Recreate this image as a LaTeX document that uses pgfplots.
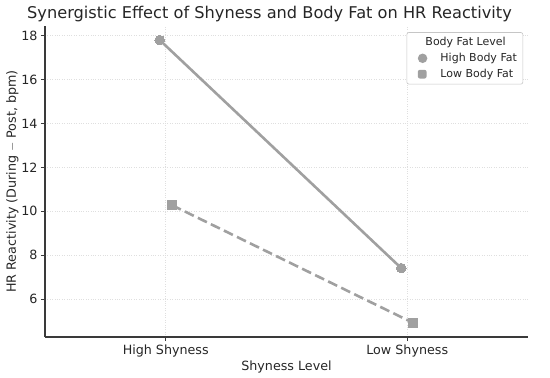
\documentclass[border=0pt]{standalone}
\usepackage{pgfplots}
\pgfplotsset{compat=1.18}
\usepackage{fontspec}
\setmainfont{DejaVu Sans}
\definecolor{ptgray}{HTML}{A0A0A0}
\definecolor{spine}{HTML}{3A3A3A}
\begin{document}
\begin{tikzpicture}[x=1pt,y=1pt]
\begin{axis}[
  scale only axis,
  width=483pt, height=311pt,
  xmin=-0.5, xmax=1.5,
  ymin=4.27, ymax=18.44,
  xtick={0,1},
  xticklabels={High Shyness, Low Shyness},
  ytick={6,8,10,12,14,16,18},
  axis x line*=bottom,
  axis y line*=left,
  axis line style={spine, line width=1.1pt, -},
  tick style={spine, line width=0.9pt},
  tick align=outside,
  major tick length=4pt,
  grid=major,
  grid style={dotted, gray!25, line width=0.6pt},
  tick label style={font=\fontsize{12.7}{14}\selectfont, text=black!85},
  /pgf/number format/assume math mode=true,
  xlabel={Shyness Level},
  ylabel={HR Reactivity (During $-$ Post, bpm)},
  label style={font=\fontsize{12.7}{14}\selectfont, text=black!85},
  xlabel style={yshift=3pt},
  ylabel style={yshift=-4pt},
  title={Synergistic Effect of Shyness and Body Fat on HR Reactivity},
  title style={font=\fontsize{16.2}{19}\selectfont, text=black!85, yshift=-5pt, xshift=-17pt},
  legend style={at={(0.99,0.98)}, anchor=north east, draw=gray!45, line width=0.6pt, rounded corners=2pt,
    font=\fontsize{11}{13}\selectfont, text=black!85, row sep=2pt, inner xsep=4pt, inner ysep=3pt},
  legend cell align=left,
  clip=false,
]
\addlegendimage{empty legend}
\addlegendentry{\hspace{-15pt}Body Fat Level}
\addplot[ptgray, line width=2.6pt, mark=*, mark size=4.8pt, mark options={solid, fill=ptgray, draw=ptgray, line width=0pt},
  legend image code/.code={\path[draw=none] (0,0) -- (0.97cm,0); \node[circle, fill=ptgray, draw=none, inner sep=0pt, minimum size=9.5pt] at (0.2cm,0) {};}] coordinates {(-0.025,17.8) (0.975,7.41)};
\addlegendentry{High Body Fat}
\addplot[ptgray, line width=2.6pt, dash pattern=on 10pt off 4.5pt, mark=square*, mark size=4.3pt, mark options={solid, fill=ptgray, draw=ptgray, line width=0pt},
  legend image code/.code={\path[draw=none] (0,0) -- (0.97cm,0); \node[rectangle, fill=ptgray, draw=none, inner sep=0pt, minimum size=8.7pt] at (0.2cm,0) {};}] coordinates {(0.025,10.28) (1.025,4.91)};
\addlegendentry{Low Body Fat}
\end{axis}
\pgfresetboundingbox
\path (current axis.south west) ++(-45pt,-41pt) rectangle ++(550pt,378pt);
\end{tikzpicture}
\end{document}
